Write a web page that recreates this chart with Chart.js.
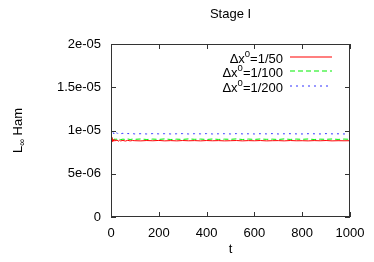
<!DOCTYPE html>
<html>
<head>
<meta charset="utf-8">
<script src="https://cdn.jsdelivr.net/npm/chart.js@4"></script>
<style>
  html, body { margin: 0; padding: 0; background: #fff; }
  canvas { display: block; }
</style>
</head>
<body>
<canvas id="hamChart" width="374" height="262"></canvas>
<script>
// time samples
const tValues = [0, 4, 8, 12, 16, 20, 25, 30, 35, 40, 50, 60, 70, 80, 90, 100,
  125, 150, 175, 200, 225, 250, 275, 300, 325, 350, 375, 400, 425, 450, 475, 500,
  525, 550, 575, 600, 625, 650, 675, 700, 725, 750, 775, 800, 825, 850, 875, 900,
  925, 950, 975, 1000];

// dx0 = 1/50
const ham50 = [9.2e-6, 8.7e-6, 9.0e-6, 8.75e-6, 8.95e-6, 8.8e-6, 8.9e-6, 8.75e-6, 8.88e-6, 8.8e-6,
  8.85e-6, 8.78e-6, 8.86e-6, 8.8e-6, 8.84e-6, 8.82e-6,
  8.8e-6, 8.84e-6, 8.81e-6, 8.85e-6, 8.8e-6, 8.83e-6, 8.8e-6, 8.84e-6, 8.81e-6, 8.83e-6,
  8.8e-6, 8.84e-6, 8.81e-6, 8.83e-6, 8.8e-6, 8.82e-6, 8.84e-6, 8.8e-6, 8.83e-6, 8.81e-6,
  8.84e-6, 8.8e-6, 8.82e-6, 8.83e-6, 8.8e-6, 8.84e-6, 8.81e-6, 8.82e-6, 8.8e-6, 8.83e-6,
  8.81e-6, 8.84e-6, 8.8e-6, 8.82e-6, 8.81e-6, 8.82e-6];

// dx0 = 1/100
const ham100 = [9.5e-6, 9.0e-6, 9.15e-6, 8.9e-6, 9.05e-6, 8.95e-6, 9.02e-6, 8.92e-6, 9.0e-6, 8.95e-6,
  9.0e-6, 8.97e-6, 9.02e-6, 8.96e-6, 9.0e-6, 8.98e-6,
  9.02e-6, 8.96e-6, 9.01e-6, 8.97e-6, 9.03e-6, 8.96e-6, 9.0e-6, 8.97e-6, 9.03e-6, 8.98e-6,
  9.01e-6, 8.96e-6, 9.02e-6, 8.97e-6, 9.0e-6, 8.98e-6, 9.03e-6, 8.96e-6, 9.01e-6, 8.97e-6,
  9.02e-6, 8.98e-6, 9.0e-6, 8.96e-6, 9.03e-6, 8.97e-6, 9.01e-6, 8.98e-6, 9.02e-6, 8.96e-6,
  9.0e-6, 8.98e-6, 9.02e-6, 8.97e-6, 9.01e-6, 8.98e-6];

// dx0 = 1/200
const ham200 = [1.0e-5, 9.7e-6, 9.9e-6, 9.6e-6, 9.8e-6, 9.65e-6, 9.75e-6, 9.6e-6, 9.7e-6, 9.62e-6,
  9.68e-6, 9.6e-6, 9.65e-6, 9.62e-6, 9.64e-6, 9.6e-6,
  9.63e-6, 9.6e-6, 9.64e-6, 9.61e-6, 9.63e-6, 9.6e-6, 9.62e-6, 9.64e-6, 9.6e-6, 9.63e-6,
  9.61e-6, 9.64e-6, 9.6e-6, 9.62e-6, 9.63e-6, 9.6e-6, 9.64e-6, 9.61e-6, 9.62e-6, 9.6e-6,
  9.63e-6, 9.61e-6, 9.64e-6, 9.6e-6, 9.62e-6, 9.63e-6, 9.61e-6, 9.6e-6, 9.63e-6, 9.62e-6,
  9.6e-6, 9.64e-6, 9.61e-6, 9.62e-6, 9.6e-6, 9.61e-6];

// key text: base, superscript, rest
const seriesLabels = [['\u0394x', '0', '=1/50'], ['\u0394x', '0', '=1/100'], ['\u0394x', '0', '=1/200']];
const yTickLabels = ['0', '5e-06', '1e-05', '1.5e-05', '2e-05'];
const xTickLabels = ['0', '200', '400', '600', '800', '1000'];

const FONT = 'Liberation Sans, Arial, Helvetica, sans-serif';
const MAIN = '13px ' + FONT;
const SMALL = '9.5px ' + FONT;
const lineColors = ['#ff0000', '#00ee00', '#3333ff'];
const lineDashes = [[], [5, 3], [2, 4]];

function toPoints(ys) {
  return tValues.map((t, i) => ({ x: t, y: ys[i] }));
}

// gnuplot-like frame, inward ticks, titles and key
const gnuplotDecor = {
  id: 'gnuplotDecor',
  afterDraw(chart) {
    const ctx = chart.ctx;
    const a = chart.chartArea;
    const xs = chart.scales.x, ys = chart.scales.y;
    ctx.save();
    ctx.setLineDash([]);
    ctx.strokeStyle = '#333';
    ctx.lineWidth = 1;
    ctx.strokeRect(a.left + 0.5, a.top + 0.5, a.right - a.left - 1, a.bottom - a.top - 1);
    ctx.beginPath();
    xs.ticks.forEach(tk => {
      const px = Math.round(xs.getPixelForValue(tk.value)) + 0.5;
      ctx.moveTo(px, a.bottom); ctx.lineTo(px, a.bottom - 5);
      ctx.moveTo(px, a.top); ctx.lineTo(px, a.top + 5);
    });
    ys.ticks.forEach(tk => {
      const py = Math.round(ys.getPixelForValue(tk.value)) + 0.5;
      ctx.moveTo(a.left, py); ctx.lineTo(a.left + 5, py);
      ctx.moveTo(a.right, py); ctx.lineTo(a.right - 5, py);
    });
    ctx.stroke();

    ctx.fillStyle = '#000';
    ctx.font = MAIN;
    ctx.textAlign = 'center';
    ctx.textBaseline = 'middle';
    ctx.fillText('Stage I', (a.left + a.right) / 2, 14);
    ctx.fillText('t', (a.left + a.right) / 2, 249);

    // y axis title: L_inf Ham
    ctx.save();
    ctx.translate(18, (a.top + a.bottom) / 2);
    ctx.rotate(-Math.PI / 2);
    ctx.textAlign = 'left';
    const w1 = ctx.measureText('L').width;
    ctx.font = SMALL;
    const w2 = ctx.measureText('\u221e').width;
    ctx.font = MAIN;
    const w3 = ctx.measureText(' Ham').width;
    let x0 = -(w1 + w2 + w3) / 2;
    ctx.fillText('L', x0, 0);
    ctx.font = SMALL;
    ctx.fillText('\u221e', x0 + w1, 4);
    ctx.font = MAIN;
    ctx.fillText(' Ham', x0 + w1 + w2, 0);
    ctx.restore();

    // key
    ctx.textAlign = 'left';
    ctx.textBaseline = 'alphabetic';
    const rowBase = [63, 77.3, 91.6];
    seriesLabels.forEach((lbl, i) => {
      const [b, sup, rest] = lbl;
      const yb = rowBase[i];
      ctx.font = MAIN;
      const wb = ctx.measureText(b).width, wr = ctx.measureText(rest).width;
      ctx.font = SMALL;
      const ws = ctx.measureText(sup).width;
      let x = 283 - (wb + ws + wr);
      ctx.fillStyle = '#000';
      ctx.font = MAIN;
      ctx.fillText(b, x, yb);
      ctx.font = SMALL;
      ctx.fillText(sup, x + wb, yb - 6);
      ctx.font = MAIN;
      ctx.fillText(rest, x + wb + ws, yb);

      const ly = Math.round(yb - 6);
      ctx.strokeStyle = lineColors[i];
      ctx.lineWidth = 1.2;
      ctx.setLineDash(lineDashes[i]);
      ctx.beginPath();
      ctx.moveTo(290, ly);
      ctx.lineTo(332, ly);
      ctx.stroke();
    });
    ctx.restore();
  }
};

new Chart(document.getElementById('hamChart'), {
  type: 'line',
  data: {
    datasets: [ham50, ham100, ham200].map((ys, i) => ({
      data: toPoints(ys),
      borderColor: lineColors[i],
      borderWidth: 1,
      borderDash: lineDashes[i],
      pointRadius: 0,
      tension: 0
    }))
  },
  options: {
    responsive: false,
    animation: false,
    layout: { padding: { top: 44, right: 24, left: 0, bottom: 0 } },
    plugins: { legend: { display: false }, title: { display: false }, tooltip: { enabled: false } },
    scales: {
      x: {
        type: 'linear', min: 0, max: 1000,
        ticks: { stepSize: 200, padding: 9, color: '#000', font: { family: FONT, size: 13 },
          callback: (v, i) => xTickLabels[i] },
        grid: { display: false, drawTicks: false },
        border: { display: false },
        afterFit: s => { s.height = 45; }
      },
      y: {
        min: 0, max: 2e-5,
        ticks: { stepSize: 5e-6, padding: 10, color: '#000', font: { family: FONT, size: 13 },
          callback: (v, i) => yTickLabels[i] },
        grid: { display: false, drawTicks: false },
        border: { display: false },
        afterFit: s => { s.width = 111; }
      }
    }
  },
  plugins: [gnuplotDecor]
});
</script>
</body>
</html>
